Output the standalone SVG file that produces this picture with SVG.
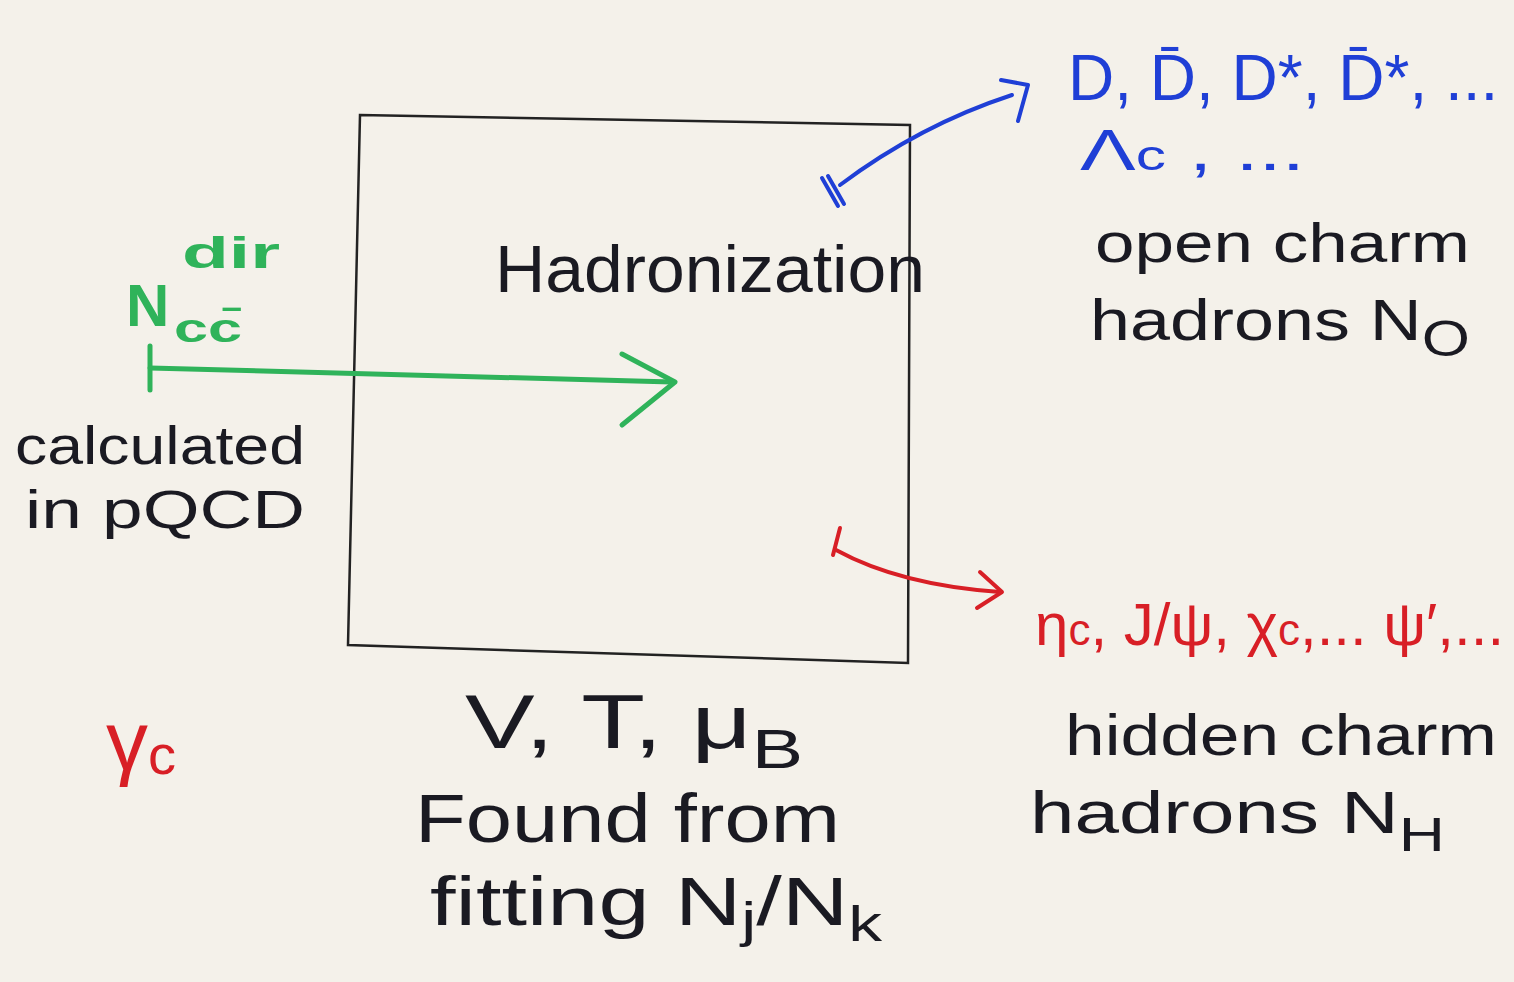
<svg xmlns="http://www.w3.org/2000/svg" width="1514" height="982" viewBox="0 0 1514 982">
<style>
text{font-family:"Liberation Sans","DejaVu Sans",sans-serif}
.blk{fill:#1a1a22}
.grn{fill:#2fb35a}
.blu{fill:#1f3fd6}
.red{fill:#d81f26}
.ln{fill:none;stroke-linecap:round;stroke-linejoin:round}
</style>
<rect width="1514" height="982" fill="#f4f1ea"/>
<g id="hadronization">
<path d="M360 115 L910 125 L908 663 L348 645 Z" fill="none" stroke="#222" stroke-width="2.5"/>
<text class="blk" x="495" y="292" font-size="66" textLength="430" lengthAdjust="spacingAndGlyphs">Hadronization</text>
</g>
<g id="pqcd">
<text class="grn" x="126" y="326" font-size="60" font-weight="bold">N</text>
<text class="grn" x="182" y="268" font-size="44" font-weight="bold" textLength="98" lengthAdjust="spacingAndGlyphs">dir</text>
<text class="grn" x="174" y="342" font-size="40" font-weight="bold" textLength="68" lengthAdjust="spacingAndGlyphs">cc̄</text>
<text class="blk" x="15" y="464" font-size="54" textLength="290" lengthAdjust="spacingAndGlyphs">calculated</text>
<text class="blk" x="25" y="528" font-size="54" textLength="280" lengthAdjust="spacingAndGlyphs">in pQCD</text>
</g>
<g id="gamma-c">
<text class="red" x="106" y="770" font-size="84">γ<tspan font-size="56" dy="4">c</tspan></text>
</g>
<g id="open-charm">
<text class="blu" x="1068" y="100" font-size="64">D, D̄, D*, D̄*, ...</text>
<text class="blu" x="1080" y="170" font-size="58" textLength="225" lengthAdjust="spacingAndGlyphs">Λ<tspan font-size="42">c</tspan> , ...</text>
<text class="blk" x="1095" y="262" font-size="56" textLength="375" lengthAdjust="spacingAndGlyphs">open charm</text>
<text class="blk" x="1090" y="340" font-size="58" textLength="380" lengthAdjust="spacingAndGlyphs">hadrons N<tspan font-size="50" dy="16">O</tspan></text>
</g>
<g id="hidden-charm">
<text class="red" x="1035" y="645" font-size="60">η<tspan font-size="44">c</tspan>, J/ψ, χ<tspan font-size="44">c</tspan>,... ψ′,...</text>
<text class="blk" x="1065" y="755" font-size="58" textLength="432" lengthAdjust="spacingAndGlyphs">hidden charm</text>
<text class="blk" x="1030" y="833" font-size="60" textLength="415" lengthAdjust="spacingAndGlyphs">hadrons N<tspan font-size="48" dy="18">H</tspan></text>
</g>
<g id="params">
<text class="blk" x="465" y="748" font-size="76" textLength="338" lengthAdjust="spacingAndGlyphs">V, T, μ<tspan font-size="56" dy="20">B</tspan></text>
<text class="blk" x="415" y="842" font-size="68" textLength="425" lengthAdjust="spacingAndGlyphs">Found from</text>
<text class="blk" x="430" y="925" font-size="68" textLength="452" lengthAdjust="spacingAndGlyphs">fitting N<tspan font-size="50" dy="12">j</tspan><tspan dy="-12">/N</tspan><tspan font-size="50" dy="16">k</tspan></text>
</g>
<g id="connectors">
<g stroke="#2fb35a" stroke-width="5" class="ln">
<path d="M150 346 L150 390"/>
<path d="M150 368 L672 382"/>
<path d="M622 354 L675 382 L622 425"/>
</g>
<g stroke="#1f3fd6" stroke-width="4" class="ln">
<path d="M822 178 L838 206"/>
<path d="M828 176 L844 204"/>
<path d="M840 185 Q920 125 1012 95"/>
<path d="M1001 80 L1028 85 L1018 121"/>
</g>
<g stroke="#d81f26" stroke-width="4" class="ln">
<path d="M840 528 L833 555"/>
<path d="M836 550 Q900 585 1000 592"/>
<path d="M980 572 L1002 592 L977 608"/>
</g>
</g>
</svg>
